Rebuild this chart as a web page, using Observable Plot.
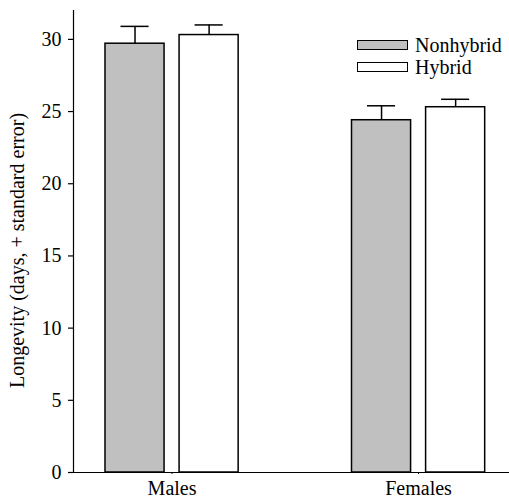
<!DOCTYPE html>
<html>
<head>
<meta charset="utf-8">
<script src="https://cdn.jsdelivr.net/npm/d3@7"></script>
<script src="https://cdn.jsdelivr.net/npm/@observablehq/plot@0.6"></script>
<style>
  html, body { margin: 0; padding: 0; background: #fff; }
  #wrap { position: relative; width: 509px; height: 498px; font-family: 'Liberation Serif', 'DejaVu Serif', serif; }
  #legend { position: absolute; left: 357px; top: 34px; font-size: 20px; line-height: 22px; color: #000; }
  #legend .row { display: flex; align-items: center; height: 22px; }
  #legend .sw { width: 49px; height: 8px; border: 1.5px solid #000; margin-right: 7px; box-sizing: content-box; }
</style>
</head>
<body>
<div id="wrap"><div id="legend"></div></div>
<script>
const groups = ["Males", "Females"];
const series = ["Nonhybrid", "Hybrid"];
const colors = ["#c0c0c0", "#ffffff"];
const means = {Males: [29.7, 30.3], Females: [24.4, 25.3]};
const errors = {Males: [1.2, 0.7], Females: [1.0, 0.55]};
const yTicks = [0, 5, 10, 15, 20, 25, 30];
const yLabel = "Longevity (days, + standard error)";

const data = [];
for (const g of groups) series.forEach((s, i) => data.push({group: g, type: s, mean: means[g][i], se: errors[g][i]}));

const font = "'Liberation Serif', 'DejaVu Serif', serif";

const chart = Plot.plot({
  width: 509,
  height: 498,
  marginLeft: 73,
  marginRight: 0,
  marginTop: 10,
  marginBottom: 26,
  style: {fontFamily: font, fontSize: "20px", color: "#000", background: "#fff"},
  fx: {domain: groups, paddingInner: 0.2314, paddingOuter: 0, round: false, label: null, axis: null},
  x: {domain: series, paddingInner: 0.2027, paddingOuter: 0.38, align: 0.568, round: false, axis: null},
  y: {domain: [0, 32], label: null},
  color: {domain: series, range: colors},
  marks: [
    Plot.barY(data, {fx: "group", x: "type", y: "mean", fill: "type", stroke: "#000", strokeWidth: 1.5}),
    Plot.ruleX(data, {fx: "group", x: "type", y1: "mean", y2: d => d.mean + d.se, stroke: "#000", strokeWidth: 1.5}),
    Plot.tickY(data, {fx: "group", x: "type", y: d => d.mean + d.se, stroke: "#000", strokeWidth: 1.5, insetLeft: 15.5, insetRight: 15.5}),
    Plot.frame({facet: "super", anchor: "bottom", stroke: "#000", strokeWidth: 1.2}),
    Plot.frame({facet: "super", anchor: "left", stroke: "#000", strokeWidth: 1.2}),
    Plot.axisY({ticks: yTicks, tickSize: 5, tickPadding: 7, tickFormat: d => d, label: null, fontSize: 20, strokeWidth: 1.2}),
    Plot.text([yLabel], {facet: "super", frameAnchor: "left", textAnchor: "middle", lineAnchor: "middle", rotate: -90, dx: -56, dy: 9, fontSize: 20, fill: "#000"}),
    Plot.axisFx({anchor: "bottom", tickSize: 2, tickPadding: 6, dx: 3.8, label: null, fontSize: 20})
  ]
});
document.getElementById("wrap").prepend(chart);

const legend = document.getElementById("legend");
series.forEach((s, i) => {
  const row = document.createElement("div");
  row.className = "row";
  const sw = document.createElement("div");
  sw.className = "sw";
  sw.style.background = colors[i];
  const t = document.createElement("span");
  t.textContent = s;
  row.append(sw, t);
  legend.append(row);
});
</script>
</body>
</html>
